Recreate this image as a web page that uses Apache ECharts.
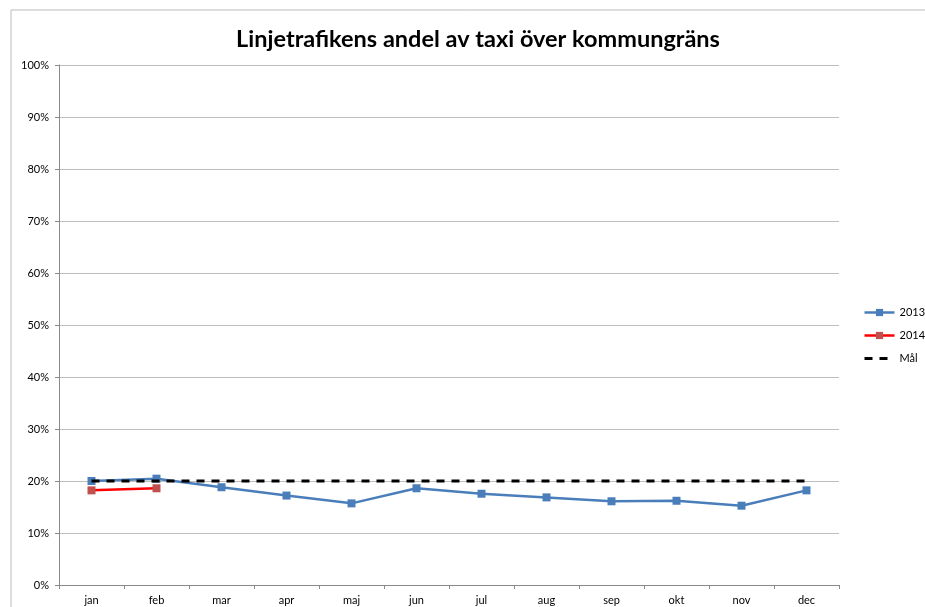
<!DOCTYPE html>
<html>
<head>
<meta charset="utf-8">
<script src="https://cdn.jsdelivr.net/npm/echarts@6/dist/echarts.min.js"></script>
<style>
  html, body { margin: 0; padding: 0; background: #fff; }
  #chart { width: 925px; height: 607px; }
</style>
</head>
<body>
<div id="chart"></div>
<script>
const months = ['jan', 'feb', 'mar', 'apr', 'maj', 'jun', 'jul', 'aug', 'sep', 'okt', 'nov', 'dec'];
const values2013 = [20.0, 20.45, 18.8, 17.2, 15.7, 18.6, 17.55, 16.85, 16.1, 16.2, 15.25, 18.2];
const values2014 = [18.2, 18.6];
const goal = [20, 20, 20, 20, 20, 20, 20, 20, 20, 20, 20, 20];

const font = 'Lato, Carlito, "Liberation Sans", sans-serif';

const chart = echarts.init(document.getElementById('chart'));
const option = {
  animation: false,
  textStyle: { fontFamily: font },
  graphic: [{
    type: 'rect',
    shape: { x: 11, y: 10, width: 930, height: 620 },
    style: { fill: 'none', stroke: '#bcbcbc', lineWidth: 1 },
    silent: true
  }],
  title: {
    text: 'Linjetrafikens andel av taxi över kommungräns',
    left: 473,
    textAlign: 'center',
    top: 22,
    textStyle: { fontFamily: font, fontSize: 23.5, fontWeight: 'bold', color: '#000' }
  },
  legend: {
    orient: 'vertical',
    left: 858,
    top: 302,
    itemGap: 12,
    itemWidth: 30,
    itemHeight: 9,
    itemStyle: { borderWidth: 0 },
    lineStyle: { width: 2.5 },
    textStyle: { fontFamily: font, fontSize: 11, color: '#000' },
    data: [
      { name: '2013' },
      { name: '2014' },
      { name: 'Mål', itemStyle: { opacity: 0 }, lineStyle: { width: 3 } }
    ]
  },
  grid: { left: 59, right: 86, top: 65, bottom: 22 },
  xAxis: {
    type: 'category',
    data: months,
    boundaryGap: true,
    axisLine: { lineStyle: { color: '#8a8a8a', width: 1 } },
    axisTick: { show: true, length: 4, lineStyle: { color: '#8a8a8a' } },
    axisLabel: { color: '#000', fontSize: 11, margin: 10, fontFamily: font }
  },
  yAxis: {
    type: 'value',
    min: 0,
    max: 100,
    interval: 10,
    axisLine: { show: true, lineStyle: { color: '#8a8a8a', width: 1 } },
    axisTick: { show: true, length: 4, lineStyle: { color: '#8a8a8a' } },
    axisLabel: { color: '#000', fontSize: 11, margin: 10, formatter: '{value}%', fontFamily: font },
    splitLine: { lineStyle: { color: '#bdbdbd', width: 1 } }
  },
  series: [
    {
      name: '2013',
      type: 'line',
      data: values2013,
      symbol: 'rect',
      symbolSize: 8,
      lineStyle: { color: '#4a7ebb', width: 2.5 },
      itemStyle: { color: '#4a7ebb' },
      z: 3
    },
    {
      name: '2014',
      type: 'line',
      data: values2014,
      symbol: 'rect',
      symbolSize: 8,
      lineStyle: { color: '#ff0000', width: 2.5 },
      itemStyle: { color: '#c0504d' },
      z: 3
    },
    {
      name: 'Mål',
      type: 'line',
      data: goal,
      symbol: 'none',
      lineStyle: { color: '#000', width: 3, type: [8, 7] },
      itemStyle: { color: '#000' },
      z: 4
    }
  ]
};
chart.setOption(option);
</script>
</body>
</html>
